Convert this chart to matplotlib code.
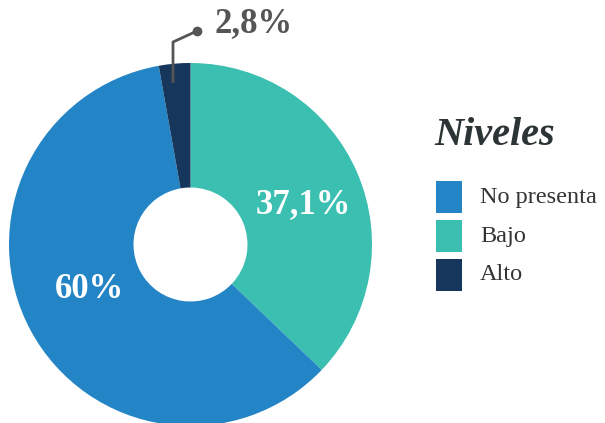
import matplotlib.pyplot as plt
from matplotlib.patches import Rectangle

# Data
categories = ['No presenta', 'Bajo', 'Alto']
values = [60, 37.1, 2.8]
value_labels = ['60%', '37,1%', '2,8%']
colors = ['#2384c6', '#3bbfb0', '#17365b']

plt.rcParams['font.family'] = ['Liberation Serif', 'DejaVu Serif']

W, H = 605, 423
fig = plt.figure(figsize=(W / 100, H / 100), dpi=100)
ax = fig.add_axes([0, 0, 1, 1])

# pixel coordinates (y measured from top)
cx, cy, R = 190.5, 244.5, 181.5
hole = 57

# clockwise from the top: Bajo, No presenta, Alto
order = [1, 0, 2]
ax.pie([values[i] for i in order], colors=[colors[i] for i in order],
       startangle=90, counterclock=False, radius=R, center=(cx, H - cy),
       wedgeprops=dict(width=R - hole, linewidth=0), frame=True)

# labels inside the ring
ax.text(303, H - 205, value_labels[1], color='white', fontsize=25, fontweight='bold',
        ha='center', va='center')
ax.text(90, H - 289, value_labels[0], color='white', fontsize=25, fontweight='bold',
        ha='center', va='center')

# leader line for the small slice
ax.plot([173, 173, 197], [H - 83, H - 42, H - 31], color='#555555', lw=2, solid_capstyle='butt')
ax.plot(197, H - 31, 'o', color='#555555', ms=6)
ax.text(215, H - 24, value_labels[2], color='#555555', fontsize=25, fontweight='bold',
        ha='left', va='center')

# legend
ax.text(434, H - 135, 'Niveles', color='#2d3436', fontsize=29, fontweight='bold',
        fontstyle='italic', ha='left', va='center')
for i, (cat, col) in enumerate(zip(categories, colors)):
    y0 = 181 + i * 39
    ax.add_patch(Rectangle((436, H - y0 - 32), 26, 32, color=col, lw=0))
    ax.text(480, H - y0 - 16, cat, color='#333333', fontsize=17.5, ha='left', va='center')

ax.set_xlim(0, W)
ax.set_ylim(0, H)
ax.set_aspect('equal')
ax.axis('off')

fig.savefig('out.png', dpi=100)
